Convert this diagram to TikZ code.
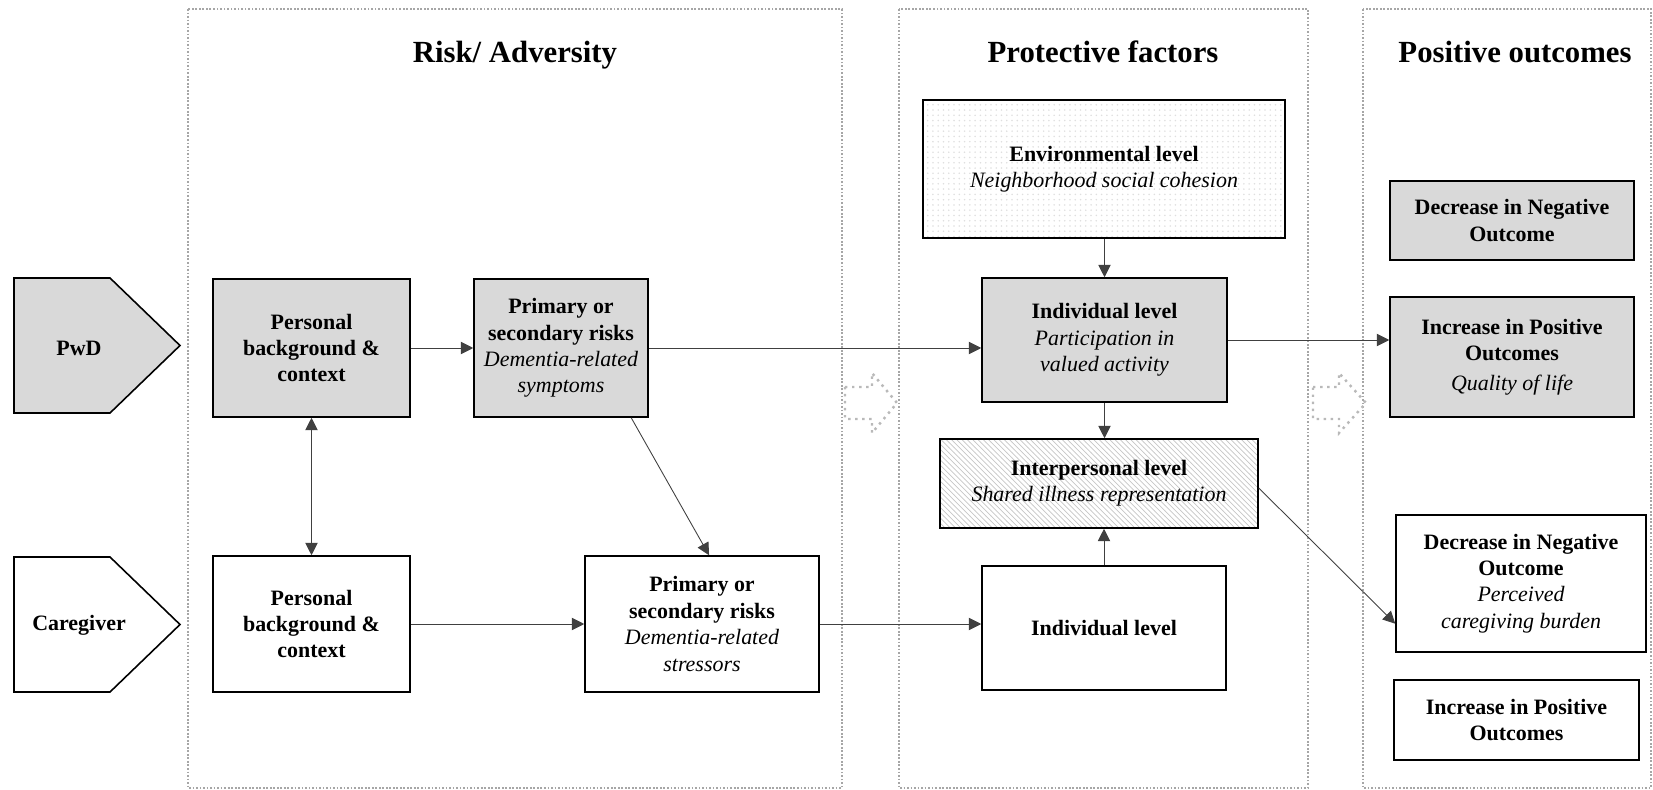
\documentclass[tikz,border=0pt]{standalone}
\usepackage{fontspec}
\setmainfont{Liberation Serif}
\usetikzlibrary{arrows.meta,positioning,calc,patterns}

\newcommand{\detailtxt}[1]{{\mdseries\itshape #1}}

\begin{document}
\begin{tikzpicture}[
	x=0.02cm, y=-0.02cm,
	>={Triangle[length=7pt, width=7pt]},
	every node/.style={align=center, inner sep=2pt, font=\fontsize{12.5}{15}\selectfont\bfseries},
	greyBox/.style={draw, fill=gray!30, line width=0.9pt},
	whiteBox/.style={draw, fill=white, line width=0.9pt},
	dotBox/.style={draw, line width=0.9pt, pattern=dots, pattern color=gray!25},
	hatchBox/.style={draw, line width=0.9pt, pattern=north west lines, pattern color=gray!45},
	frameBox/.style={draw=gray!70, line width=1pt, dash pattern=on 1pt off 1pt},
	hollowArrow/.style={draw=gray!55, line width=1.4pt, dash pattern=on 1.4pt off 2.6pt},
	flowArrow/.style={draw=black!75, line width=0.5pt, ->},
	headText/.style={anchor=base, font=\fontsize{17.5}{21}\selectfont\bfseries}
	]

	\useasboundingbox (0,0) rectangle (1653,790);

	% dotted frames and headings
	\draw[frameBox] (188,9) rectangle (842,788);
	\draw[frameBox] (899,9) rectangle (1308,788);
	\draw[frameBox] (1363,9) rectangle (1651,788);
	\node[headText] (riskT) at (515,63) {Risk/ Adversity};
	\node[headText] (protT) at (1103,63) {Protective factors};
	\node[headText] (outT) at (1515,63) {Positive outcomes};

	% hollow arrows between the frames
	\draw[hollowArrow] (845,387) -- (872,387) -- (872,373) -- (897,403) -- (872,433) -- (872,419) -- (845,419) -- cycle;
	\draw[hollowArrow] (1313,387) -- (1339,387) -- (1339,373) -- (1366,403) -- (1339,433) -- (1339,419) -- (1313,419) -- cycle;

	% dyad members
	\draw[greyBox] (14,278) -- (110,278) -- (180,345.5) -- (110,413) -- (14,413) -- cycle;
	\node (pwd) at (79,348) {PwD};
	\draw[whiteBox] (14,557) -- (110,557) -- (180,624.5) -- (110,692) -- (14,692) -- cycle;
	\node (carer) at (79,625) {Caregiver};

	% Risk / adversity
	\node[greyBox, minimum width=3.94cm, minimum height=2.76cm] (bgP) at (311.5,348) {Personal\\ background \&\\ context};
	\node[whiteBox, minimum width=3.94cm, minimum height=2.72cm] (bgC) at (311.5,624) {Personal\\ background \&\\ context};
	\node[greyBox, minimum width=3.48cm, minimum height=2.76cm] (riskP) at (561,348) {Primary or\\ secondary risks\\ \detailtxt{Dementia-related}\\ \detailtxt{symptoms}};
	\node[whiteBox, minimum width=4.68cm, minimum height=2.72cm] (riskC) at (702,624) {Primary or\\ secondary risks\\ \detailtxt{Dementia-related}\\ \detailtxt{stressors}};

	% Protective factors
	\node[dotBox, minimum width=7.24cm, minimum height=2.76cm] (envF) at (1104,169) {Environmental level\\ \detailtxt{Neighborhood social cohesion}};
	\node[greyBox, minimum width=4.9cm, minimum height=2.48cm] (indP) at (1104.5,340) {Individual level\\ \detailtxt{Participation in}\\ \detailtxt{valued activity}};
	\node[hatchBox, minimum width=6.36cm, minimum height=1.78cm] (interF) at (1099,483.5) {Interpersonal level\\ \detailtxt{Shared illness representation}};
	\node[whiteBox, minimum width=4.88cm, minimum height=2.48cm] (indC) at (1104,628) {Individual level};

	% Positive outcomes
	\node[greyBox, minimum width=4.88cm, minimum height=1.58cm] (outA) at (1512,220.5) {Decrease in Negative\\ Outcome};
	\node[greyBox, minimum width=4.88cm, minimum height=2.4cm] (outB) at (1512,357) {Increase in Positive\\ Outcomes\\[2pt] \detailtxt{Quality of life}};
	\node[whiteBox, minimum width=5cm, minimum height=2.74cm] (outC) at (1521,583.5) {Decrease in Negative\\ Outcome\\ \detailtxt{Perceived}\\ \detailtxt{caregiving burden}};
	\node[whiteBox, minimum width=4.9cm, minimum height=1.6cm] (outD) at (1516.5,720) {Increase in Positive\\ Outcomes};

	% connectors
	\draw[flowArrow] (bgP) -- (riskP);
	\draw[flowArrow, <->] (bgP) -- (bgC);
	\draw[flowArrow] (bgC) -- (riskC);
	\draw[flowArrow] (riskP.east) -- (riskP.east -| indP.west);
	\draw[flowArrow] ($(riskP.south west)!0.9!(riskP.south east)$) -- ($(riskC.north west)!0.53!(riskC.north east)$);
	\draw[flowArrow] (riskC.east) -- (riskC.east -| indC.west);
	\draw[flowArrow] (envF.south -| indP.north) -- (indP.north);
	\draw[flowArrow] (indP.south) -- (indP.south |- interF.north);
	\draw[flowArrow] (indC.north) -- (indC.north |- interF.south);
	\draw[flowArrow] (indP.east) -- (indP.east -| outB.west);
	\draw[flowArrow] ($(interF.north east)!0.55!(interF.south east)$) -- ($(outC.north west)!0.79!(outC.south west)$);
\end{tikzpicture}
\end{document}
